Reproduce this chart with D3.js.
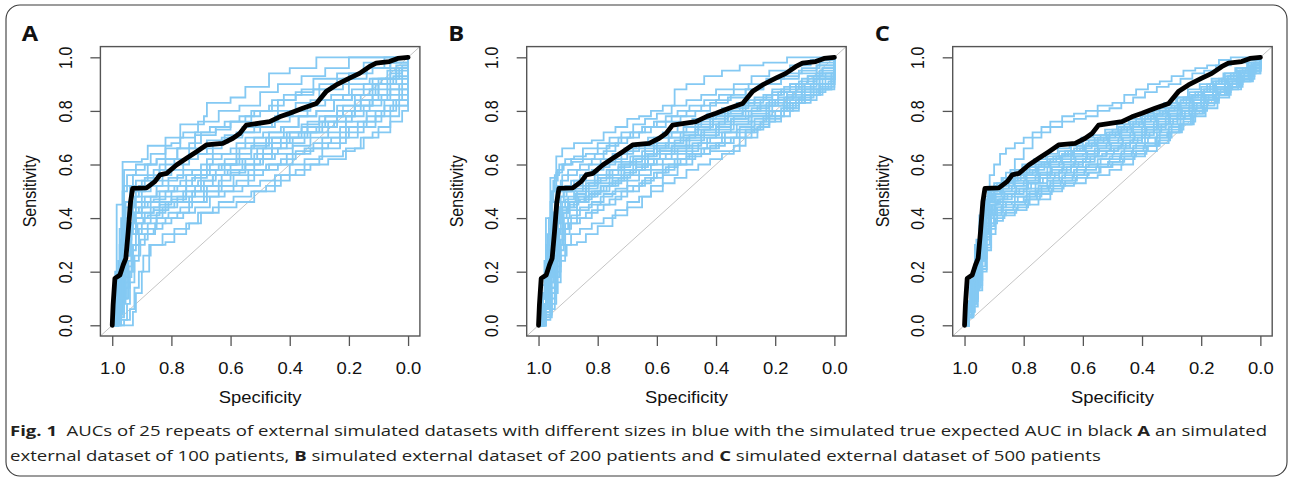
<!DOCTYPE html>
<html>
<head>
<meta charset="utf-8">
<script src="https://cdn.jsdelivr.net/npm/d3@7"></script>
<style>
  html, body { margin: 0; padding: 0; background: #fff; }
  svg { display: block; }
</style>
</head>
<body>
<svg id="fig" width="1290" height="480"></svg>
<script>
// ---- data: ROC curves as [specificity, sensitivity] vertices ----
const panelLetters = ["A", "B", "C"];
const tickValues = [0, 0.2, 0.4, 0.6, 0.8, 1.0];

// simulated true expected ROC (black), identical in every panel
const trueRoc = [[1,0],[.997,.076],[.991,.175],[.974,.188],[.963,.225],[.954,.25],[.946,.349],[.938,.461],[.931,.511],
  [.884,.513],[.856,.536],[.839,.561],[.816,.567],[.783,.598],[.749,.623],[.715,.648],[.682,.673],[.626,.679],
  [.592,.698],[.569,.716],[.547,.747],[.468,.76],[.434,.778],[.40,.791],[.356,.81],[.31,.828],[.277,.872],
  [.243,.897],[.198,.922],[.164,.94],[.131,.965],[.108,.978],[.063,.984],[.035,.996],[0,1]];

// 25 repeats, external dataset of 100 patients
const rocA = [
 [[1,0],[.99,.2],[.985,.45],[.965,.61],[.9,.62],[.88,.67],[.8,.68],[.77,.75],[.69,.78],[.68,.83],[.6,.85],[.55,.89],[.47,.94],[.4,.96],[.31,1],[0,1]],
 [[1,0],[.98,.15],[.97,.4],[.96,.58],[.92,.6],[.87,.64],[.82,.7],[.76,.72],[.71,.76],[.64,.8],[.57,.82],[.5,.87],[.44,.9],[.36,.93],[.28,.96],[.2,1],[0,1]],
 [[1,0],[.99,.1],[.97,.3],[.96,.52],[.93,.56],[.88,.6],[.85,.62],[.78,.66],[.72,.71],[.65,.73],[.6,.76],[.53,.8],[.46,.84],[.38,.87],[.32,.92],[.24,.94],[.15,.98],[.08,1],[0,1]],
 [[1,0],[.985,.12],[.97,.26],[.955,.44],[.92,.5],[.89,.55],[.84,.58],[.79,.6],[.74,.66],[.68,.69],[.62,.71],[.56,.74],[.5,.76],[.44,.8],[.38,.83],[.3,.88],[.22,.92],[.14,.96],[.06,.98],[0,1]],
 [[1,0],[.98,.08],[.96,.2],[.95,.38],[.93,.46],[.9,.48],[.85,.52],[.81,.55],[.76,.58],[.7,.6],[.66,.64],[.6,.66],[.55,.7],[.49,.72],[.43,.74],[.37,.78],[.31,.8],[.25,.84],[.19,.88],[.12,.9],[.06,.94],[.02,.97],[0,1]],
 [[1,0],[.99,.06],[.975,.16],[.96,.3],[.945,.42],[.91,.44],[.87,.48],[.84,.5],[.79,.52],[.75,.56],[.7,.58],[.64,.6],[.58,.62],[.53,.66],[.48,.7],[.42,.72],[.36,.75],[.3,.78],[.24,.82],[.18,.86],[.11,.9],[.05,.93],[0,1]],
 [[1,0],[.985,.1],[.97,.22],[.95,.34],[.93,.4],[.9,.42],[.86,.44],[.82,.46],[.78,.48],[.72,.52],[.66,.56],[.62,.6],[.57,.62],[.52,.64],[.46,.68],[.4,.7],[.34,.74],[.28,.78],[.22,.8],[.16,.84],[.1,.9],[.04,.96],[0,1]],
 [[1,0],[.99,.04],[.97,.12],[.955,.26],[.94,.36],[.92,.4],[.88,.41],[.84,.45],[.8,.47],[.75,.5],[.69,.54],[.65,.56],[.6,.58],[.55,.6],[.49,.64],[.44,.66],[.39,.7],[.33,.72],[.27,.76],[.21,.78],[.15,.82],[.09,.86],[.03,.9],[0,1]],
 [[1,0],[.95,0],[.93,.05],[.92,.12],[.9,.2],[.875,.3],[.82,.31],[.79,.34],[.75,.38],[.71,.42],[.66,.44],[.58,.46],[.52,.5],[.45,.54],[.4,.56],[.35,.6],[.3,.63],[.22,.65],[.18,.66],[.15,.7],[.1,.74],[.06,.78],[.03,.82],[0,1]],
 [[1,0],[.98,.03],[.96,.1],[.945,.2],[.93,.3],[.91,.34],[.88,.36],[.85,.4],[.81,.42],[.77,.44],[.73,.46],[.68,.5],[.63,.52],[.58,.54],[.52,.58],[.47,.6],[.41,.64],[.35,.66],[.29,.7],[.23,.74],[.17,.76],[.11,.8],[.05,.84],[0,1]],
 [[1,0],[.975,.05],[.96,.14],[.945,.24],[.935,.34],[.915,.38],[.89,.42],[.86,.43],[.81,.46],[.76,.5],[.7,.52],[.64,.54],[.6,.57],[.55,.6],[.5,.62],[.45,.64],[.39,.67],[.33,.7],[.27,.72],[.21,.76],[.14,.8],[.08,.84],[.02,.88],[0,1]],
 [[1,0],[.99,.08],[.975,.18],[.965,.28],[.95,.36],[.93,.42],[.9,.46],[.86,.47],[.82,.5],[.78,.52],[.73,.55],[.68,.58],[.63,.6],[.58,.64],[.53,.67],[.47,.7],[.41,.72],[.36,.74],[.3,.76],[.24,.8],[.18,.84],[.12,.92],[.06,.96],[0,1]],
 [[1,0],[.98,.04],[.965,.1],[.95,.18],[.935,.28],[.92,.34],[.9,.38],[.87,.4],[.83,.44],[.79,.46],[.74,.48],[.69,.5],[.64,.52],[.59,.56],[.54,.58],[.48,.6],[.43,.62],[.38,.65],[.32,.68],[.26,.7],[.2,.74],[.14,.78],[.08,.82],[.03,.86],[0,1]],
 [[1,0],[.99,.1],[.98,.2],[.97,.32],[.955,.4],[.94,.48],[.91,.52],[.87,.54],[.83,.56],[.8,.58],[.76,.62],[.71,.64],[.66,.68],[.61,.7],[.56,.72],[.5,.74],[.45,.78],[.39,.8],[.33,.84],[.26,.86],[.2,.9],[.13,.92],[.07,.95],[0,1]],
 [[1,0],[.97,.02],[.95,.08],[.94,.16],[.925,.24],[.91,.3],[.89,.34],[.86,.36],[.83,.38],[.8,.4],[.76,.42],[.72,.44],[.67,.48],[.62,.5],[.56,.52],[.5,.54],[.45,.56],[.4,.6],[.35,.62],[.29,.66],[.23,.7],[.17,.74],[.11,.78],[.06,.82],[0,1]],
 [[1,0],[.99,.06],[.97,.14],[.96,.24],[.95,.32],[.935,.38],[.92,.44],[.89,.48],[.85,.5],[.81,.52],[.77,.54],[.72,.56],[.67,.6],[.62,.62],[.57,.66],[.52,.68],[.46,.7],[.4,.72],[.34,.76],[.28,.78],[.22,.82],[.16,.86],[.1,.92],[.04,.97],[0,1]],
 [[1,0],[.985,.14],[.975,.3],[.96,.46],[.94,.52],[.92,.54],[.88,.56],[.84,.6],[.79,.62],[.74,.64],[.68,.66],[.63,.7],[.58,.72],[.52,.74],[.46,.76],[.4,.78],[.34,.82],[.28,.84],[.22,.86],[.15,.9],[.09,.92],[.03,.96],[0,1]],
 [[1,0],[.98,.06],[.97,.16],[.955,.28],[.94,.38],[.925,.42],[.9,.44],[.88,.46],[.84,.48],[.8,.5],[.75,.52],[.71,.54],[.66,.56],[.61,.58],[.56,.62],[.51,.66],[.46,.68],[.41,.7],[.36,.72],[.3,.74],[.24,.78],[.18,.82],[.12,.84],[.06,.88],[0,1]],
 [[1,0],[.99,.12],[.98,.24],[.965,.36],[.955,.46],[.94,.5],[.9,.54],[.86,.58],[.82,.62],[.78,.66],[.74,.68],[.7,.72],[.65,.74],[.6,.76],[.55,.78],[.5,.8],[.44,.84],[.38,.86],[.32,.88],[.26,.9],[.2,.94],[.14,.96],[.08,.98],[.04,1],[0,1]],
 [[1,0],[.975,.08],[.96,.18],[.95,.26],[.94,.34],[.92,.38],[.895,.4],[.87,.44],[.84,.46],[.8,.48],[.75,.52],[.7,.56],[.65,.58],[.6,.6],[.55,.62],[.49,.66],[.43,.7],[.37,.72],[.31,.74],[.25,.76],[.19,.8],[.13,.84],[.07,.88],[.02,.92],[0,1]],
 [[1,0],[.96,.02],[.94,.06],[.925,.14],[.91,.2],[.895,.26],[.87,.3],[.83,.34],[.79,.36],[.74,.38],[.7,.42],[.64,.46],[.59,.48],[.53,.5],[.48,.52],[.43,.56],[.38,.58],[.33,.6],[.27,.62],[.21,.66],[.16,.7],[.12,.72],[.06,.76],[.02,.8],[0,1]],
 [[1,0],[.985,.04],[.97,.1],[.955,.16],[.945,.22],[.93,.3],[.91,.36],[.88,.38],[.85,.42],[.82,.44],[.78,.46],[.73,.5],[.68,.52],[.63,.56],[.57,.58],[.52,.62],[.46,.66],[.41,.68],[.35,.72],[.29,.76],[.24,.78],[.18,.82],[.12,.86],[.06,.9],[0,1]],
 [[1,0],[.98,.1],[.965,.24],[.955,.34],[.945,.44],[.925,.48],[.9,.5],[.87,.52],[.83,.54],[.78,.56],[.73,.58],[.68,.62],[.63,.64],[.58,.68],[.52,.7],[.47,.72],[.42,.74],[.37,.78],[.31,.8],[.25,.84],[.19,.86],[.13,.88],[.07,.92],[.02,.96],[0,1]],
 [[1,0],[.99,.02],[.97,.08],[.955,.14],[.94,.2],[.925,.26],[.905,.32],[.88,.34],[.855,.38],[.82,.4],[.78,.42],[.74,.46],[.69,.48],[.64,.5],[.59,.52],[.54,.56],[.49,.58],[.44,.6],[.39,.64],[.33,.66],[.27,.68],[.21,.72],[.15,.76],[.09,.8],[.04,.84],[0,1]],
 [[1,0],[.985,.2],[.975,.36],[.965,.5],[.95,.56],[.92,.58],[.89,.6],[.85,.62],[.82,.66],[.77,.7],[.72,.72],[.67,.74],[.62,.76],[.57,.78],[.52,.8],[.47,.82],[.42,.86],[.36,.88],[.3,.9],[.24,.92],[.18,.94],[.12,.96],[.06,.98],[0,1]]
];

// 25 repeats, external dataset of 200 patients
const rocB = [
 [[1,0],[.99,.15],[.975,.4],[.96,.55],[.94,.63],[.92,.66],[.88,.68],[.82,.69],[.78,.72],[.74,.74],[.7,.77],[.66,.78],[.62,.8],[.58,.82],[.54,.88],[.5,.9],[.44,.93],[.38,.95],[.32,.97],[.24,.98],[.16,1],[0,1]],
 [[1,0],[.985,.12],[.97,.34],[.955,.5],[.94,.57],[.92,.6],[.89,.62],[.85,.66],[.8,.68],[.76,.7],[.72,.72],[.68,.75],[.64,.77],[.6,.79],[.55,.82],[.5,.84],[.45,.86],[.4,.88],[.34,.9],[.28,.93],[.22,.95],[.15,.97],[.08,.99],[0,1]],
 [[1,0],[.99,.08],[.97,.26],[.955,.42],[.94,.52],[.92,.56],[.9,.58],[.86,.6],[.82,.62],[.78,.65],[.74,.68],[.7,.7],[.66,.72],[.62,.74],[.57,.76],[.52,.78],[.47,.8],[.42,.83],[.36,.85],[.3,.88],[.24,.9],[.18,.93],[.12,.95],[.06,.97],[0,1]],
 [[1,0],[.985,.1],[.965,.24],[.95,.36],[.935,.46],[.915,.5],[.89,.54],[.86,.56],[.82,.58],[.78,.6],[.74,.62],[.7,.65],[.66,.67],[.61,.7],[.56,.72],[.51,.74],[.46,.76],[.41,.78],[.36,.8],[.3,.83],[.24,.86],[.18,.88],[.12,.91],[.06,.94],[0,1]],
 [[1,0],[.98,.06],[.965,.18],[.95,.3],[.935,.4],[.92,.46],[.9,.48],[.87,.5],[.83,.53],[.79,.55],[.75,.58],[.71,.6],[.67,.62],[.63,.64],[.59,.66],[.54,.69],[.49,.71],[.44,.73],[.39,.76],[.34,.78],[.28,.81],[.22,.84],[.16,.87],[.1,.9],[.05,.94],[0,1]],
 [[1,0],[.985,.08],[.97,.2],[.955,.32],[.94,.4],[.925,.44],[.9,.46],[.87,.48],[.84,.51],[.8,.53],[.76,.56],[.72,.58],[.68,.6],[.64,.63],[.6,.65],[.55,.67],[.5,.7],[.45,.72],[.4,.74],[.35,.77],[.29,.8],[.23,.83],[.17,.85],[.11,.88],[.05,.92],[0,1]],
 [[1,0],[.98,.05],[.96,.14],[.945,.24],[.93,.34],[.915,.4],[.895,.43],[.87,.46],[.84,.48],[.8,.5],[.76,.53],[.72,.56],[.68,.58],[.64,.6],[.6,.62],[.55,.65],[.5,.67],[.45,.7],[.4,.72],[.35,.75],[.29,.78],[.23,.8],[.17,.83],[.11,.86],[.05,.9],[0,1]],
 [[1,0],[.99,.06],[.975,.16],[.96,.28],[.945,.38],[.93,.44],[.91,.47],[.88,.5],[.85,.52],[.81,.54],[.77,.56],[.73,.59],[.69,.61],[.65,.63],[.61,.66],[.57,.68],[.52,.7],[.47,.73],[.42,.75],[.37,.78],[.31,.8],[.25,.82],[.19,.85],[.13,.88],[.07,.92],[0,1]],
 [[1,0],[.98,.02],[.96,.06],[.945,.12],[.935,.2],[.925,.26],[.905,.3],[.87,.31],[.84,.34],[.8,.37],[.75,.41],[.7,.44],[.65,.48],[.62,.52],[.58,.56],[.53,.6],[.48,.64],[.42,.65],[.37,.65],[.32,.7],[.28,.73],[.24,.78],[.21,.82],[.15,.84],[.1,.86],[.05,.9],[.01,.94],[0,1]],
 [[1,0],[.975,.04],[.955,.12],[.94,.22],[.925,.3],[.91,.36],[.89,.38],[.86,.4],[.82,.43],[.78,.45],[.74,.48],[.7,.5],[.66,.53],[.62,.55],[.58,.58],[.54,.6],[.5,.63],[.45,.66],[.4,.68],[.35,.7],[.3,.73],[.25,.76],[.2,.8],[.15,.83],[.1,.86],[.05,.9],[0,1]],
 [[1,0],[.985,.06],[.965,.16],[.95,.26],[.935,.36],[.92,.42],[.9,.44],[.87,.46],[.83,.49],[.79,.52],[.75,.54],[.71,.57],[.67,.59],[.63,.62],[.59,.64],[.54,.66],[.49,.69],[.44,.71],[.39,.73],[.34,.76],[.28,.79],[.22,.82],[.16,.85],[.1,.88],[.04,.92],[0,1]],
 [[1,0],[.99,.1],[.975,.22],[.96,.36],[.945,.46],[.93,.5],[.91,.52],[.88,.54],[.84,.57],[.8,.59],[.76,.61],[.72,.64],[.68,.66],[.64,.68],[.6,.7],[.55,.72],[.5,.74],[.45,.77],[.4,.79],[.35,.81],[.29,.84],[.23,.86],[.17,.89],[.11,.92],[.05,.95],[0,1]],
 [[1,0],[.98,.04],[.96,.1],[.945,.18],[.93,.28],[.915,.34],[.895,.38],[.87,.4],[.84,.42],[.8,.45],[.76,.47],[.72,.5],[.68,.52],[.64,.55],[.6,.57],[.56,.6],[.52,.62],[.47,.64],[.42,.67],[.37,.7],[.32,.72],[.27,.75],[.22,.78],[.17,.81],[.12,.84],[.06,.88],[0,1]],
 [[1,0],[.985,.12],[.97,.28],[.955,.42],[.94,.5],[.925,.54],[.9,.56],[.87,.58],[.83,.6],[.79,.62],[.75,.64],[.71,.66],[.67,.68],[.63,.7],[.58,.72],[.53,.75],[.48,.77],[.43,.79],[.38,.81],[.33,.83],[.27,.85],[.21,.88],[.15,.9],[.09,.93],[.04,.96],[0,1]],
 [[1,0],[.98,.08],[.965,.2],[.95,.32],[.94,.4],[.92,.44],[.895,.46],[.86,.47],[.82,.5],[.78,.52],[.74,.54],[.7,.56],[.66,.58],[.62,.6],[.58,.62],[.53,.64],[.48,.66],[.43,.68],[.38,.7],[.33,.73],[.28,.76],[.23,.78],[.18,.81],[.13,.84],[.08,.87],[.03,.9],[0,1]],
 [[1,0],[.975,.06],[.96,.16],[.945,.28],[.93,.36],[.915,.42],[.895,.45],[.865,.48],[.83,.5],[.79,.52],[.75,.55],[.71,.58],[.67,.6],[.63,.62],[.59,.65],[.55,.67],[.5,.7],[.45,.73],[.4,.75],[.35,.77],[.3,.8],[.25,.82],[.2,.84],[.14,.87],[.08,.9],[.03,.94],[0,1]],
 [[1,0],[.99,.08],[.975,.2],[.96,.32],[.95,.42],[.935,.48],[.915,.5],[.885,.52],[.85,.54],[.81,.56],[.77,.58],[.73,.6],[.69,.63],[.65,.65],[.61,.67],[.56,.7],[.51,.72],[.46,.74],[.41,.77],[.36,.79],[.31,.82],[.25,.84],[.19,.87],[.13,.9],[.07,.93],[0,1]],
 [[1,0],[.98,.05],[.96,.12],[.945,.2],[.935,.3],[.92,.36],[.9,.4],[.87,.43],[.83,.45],[.79,.48],[.75,.5],[.7,.52],[.65,.54],[.61,.57],[.57,.59],[.53,.62],[.49,.64],[.44,.66],[.39,.68],[.34,.7],[.3,.72],[.26,.74],[.22,.76],[.18,.78],[.15,.8],[.12,.83],[.08,.86],[.04,.88],[.01,.92],[0,1]],
 [[1,0],[.975,.03],[.955,.08],[.94,.16],[.925,.24],[.91,.3],[.89,.34],[.86,.36],[.82,.38],[.78,.4],[.74,.43],[.7,.46],[.66,.48],[.62,.5],[.58,.53],[.54,.55],[.5,.58],[.46,.6],[.42,.62],[.38,.64],[.34,.67],[.3,.7],[.26,.74],[.22,.77],[.18,.8],[.14,.83],[.1,.86],[.05,.88],[.01,.92],[0,1]],
 [[1,0],[.99,.1],[.98,.24],[.965,.4],[.955,.5],[.945,.56],[.93,.6],[.91,.62],[.88,.63],[.84,.64],[.8,.66],[.76,.68],[.72,.7],[.68,.72],[.64,.74],[.6,.76],[.55,.78],[.5,.8],[.45,.82],[.4,.84],[.35,.86],[.3,.88],[.24,.9],[.18,.92],[.12,.94],[.06,.97],[0,1]],
 [[1,0],[.985,.06],[.97,.14],[.955,.24],[.94,.34],[.925,.4],[.905,.44],[.88,.46],[.845,.48],[.81,.5],[.77,.52],[.73,.55],[.69,.58],[.65,.6],[.61,.62],[.57,.64],[.53,.66],[.48,.68],[.43,.7],[.38,.72],[.33,.75],[.28,.78],[.22,.8],[.16,.83],[.1,.86],[.05,.89],[0,1]],
 [[1,0],[.98,.07],[.965,.18],[.95,.3],[.935,.38],[.92,.43],[.9,.46],[.875,.49],[.84,.52],[.8,.55],[.76,.58],[.72,.6],[.68,.62],[.64,.64],[.6,.66],[.56,.68],[.51,.71],[.46,.74],[.41,.76],[.36,.78],[.31,.8],[.26,.82],[.21,.84],[.16,.86],[.11,.89],[.06,.92],[0,1]],
 [[1,0],[.985,.1],[.97,.22],[.955,.34],[.94,.44],[.925,.48],[.905,.5],[.875,.51],[.84,.53],[.8,.56],[.76,.58],[.72,.61],[.68,.63],[.64,.66],[.6,.68],[.56,.7],[.52,.72],[.47,.75],[.42,.78],[.37,.8],[.32,.82],[.27,.84],[.21,.87],[.15,.9],[.09,.93],[.04,.96],[0,1]],
 [[1,0],[.975,.05],[.955,.14],[.94,.24],[.925,.32],[.91,.38],[.89,.41],[.86,.44],[.82,.46],[.78,.49],[.74,.51],[.7,.54],[.66,.56],[.62,.58],[.58,.6],[.54,.62],[.5,.65],[.46,.68],[.42,.7],[.37,.72],[.32,.74],[.27,.77],[.22,.8],[.17,.82],[.12,.85],[.07,.88],[.02,.91],[0,1]],
 [[1,0],[.99,.12],[.975,.3],[.96,.46],[.95,.54],[.935,.58],[.915,.6],[.885,.61],[.85,.62],[.81,.64],[.77,.67],[.73,.7],[.69,.72],[.65,.74],[.61,.76],[.57,.78],[.53,.8],[.49,.82],[.44,.84],[.39,.86],[.34,.88],[.29,.9],[.23,.92],[.17,.94],[.11,.96],[.05,.98],[0,1]]
];

// 25 repeats, external dataset of 500 patients
const rocC = [
 [[1,0],[.99,.06],[.975,.16],[.96,.28],[.945,.4],[.93,.5],[.915,.56],[.9,.6],[.88,.64],[.86,.66],[.83,.68],[.8,.7],[.77,.72],[.74,.74],[.71,.76],[.67,.78],[.63,.79],[.59,.8],[.55,.82],[.5,.83],[.46,.86],[.42,.88],[.38,.9],[.34,.91],[.3,.93],[.26,.95],[.22,.96],[.18,.97],[.14,.99],[.1,1],[0,1]],
 [[1,0],[.99,.05],[.975,.14],[.96,.26],[.945,.38],[.93,.46],[.91,.5],[.89,.53],[.86,.57],[.83,.62],[.8,.66],[.77,.7],[.74,.72],[.71,.74],[.67,.76],[.63,.77],[.59,.78],[.55,.8],[.51,.81],[.47,.83],[.43,.85],[.39,.87],[.35,.89],[.31,.9],[.27,.92],[.23,.94],[.19,.95],[.15,.97],[.1,.98],[.05,.99],[0,1]],
 [[1,0],[.985,.04],[.97,.09],[.955,.15],[.94,.21],[.925,.28],[.91,.34],[.895,.39],[.87,.41],[.83,.43],[.79,.45],[.75,.47],[.71,.5],[.67,.52],[.63,.53],[.59,.55],[.55,.56],[.51,.58],[.47,.6],[.43,.63],[.39,.65],[.35,.68],[.31,.72],[.27,.75],[.23,.79],[.19,.83],[.15,.86],[.11,.89],[.07,.91],[.03,.94],[0,1]],
 [[1,0],[.99,.03],[.975,.08],[.96,.16],[.945,.24],[.93,.32],[.915,.38],[.9,.41],[.875,.43],[.835,.45],[.795,.47],[.755,.5],[.715,.52],[.675,.54],[.635,.56],[.595,.58],[.555,.59],[.515,.61],[.475,.63],[.435,.65],[.395,.67],[.355,.7],[.315,.72],[.275,.75],[.235,.79],[.195,.82],[.155,.86],[.115,.88],[.075,.91],[.035,.95],[0,1]],
 [[1,0],[.985,.05],[.97,.12],[.955,.2],[.94,.28],[.925,.36],[.91,.41],[.89,.44],[.86,.46],[.82,.48],[.78,.5],[.74,.52],[.7,.55],[.66,.57],[.62,.59],[.58,.6],[.54,.62],[.5,.64],[.46,.66],[.42,.68],[.38,.7],[.34,.73],[.3,.75],[.26,.78],[.22,.81],[.18,.84],[.14,.87],[.1,.9],[.06,.93],[.02,.96],[0,1]],
 [[1,0],[.99,.04],[.975,.11],[.96,.19],[.945,.29],[.93,.38],[.915,.43],[.9,.45],[.88,.47],[.84,.49],[.8,.51],[.76,.53],[.72,.56],[.68,.58],[.64,.6],[.6,.62],[.56,.63],[.52,.65],[.48,.67],[.44,.69],[.4,.72],[.36,.74],[.32,.76],[.28,.79],[.24,.82],[.2,.85],[.16,.87],[.12,.9],[.08,.93],[.04,.96],[0,1]],
 [[1,0],[.985,.06],[.97,.14],[.955,.23],[.94,.32],[.925,.4],[.91,.45],[.89,.47],[.865,.49],[.825,.51],[.785,.53],[.745,.56],[.705,.58],[.665,.6],[.625,.62],[.585,.64],[.545,.65],[.505,.67],[.465,.69],[.425,.71],[.385,.73],[.345,.75],[.305,.78],[.265,.8],[.225,.83],[.185,.86],[.145,.88],[.105,.91],[.065,.94],[.025,.97],[0,1]],
 [[1,0],[.99,.07],[.975,.16],[.96,.26],[.945,.36],[.93,.43],[.915,.47],[.895,.49],[.87,.51],[.83,.53],[.79,.55],[.75,.57],[.71,.6],[.67,.62],[.63,.64],[.59,.65],[.55,.67],[.51,.69],[.47,.71],[.43,.73],[.39,.75],[.35,.77],[.31,.79],[.27,.82],[.23,.84],[.19,.87],[.15,.89],[.11,.92],[.07,.94],[.03,.97],[0,1]],
 [[1,0],[.985,.08],[.97,.18],[.955,.3],[.94,.4],[.925,.46],[.905,.49],[.88,.51],[.85,.54],[.81,.56],[.77,.58],[.73,.61],[.69,.63],[.65,.65],[.61,.66],[.57,.68],[.53,.7],[.49,.72],[.45,.74],[.41,.76],[.37,.78],[.33,.8],[.29,.82],[.25,.85],[.21,.87],[.17,.9],[.13,.92],[.09,.94],[.05,.96],[.02,.98],[0,1]],
 [[1,0],[.99,.05],[.98,.12],[.965,.22],[.95,.33],[.935,.41],[.92,.46],[.9,.48],[.875,.5],[.84,.52],[.8,.54],[.76,.56],[.72,.59],[.68,.61],[.64,.63],[.6,.64],[.56,.66],[.52,.68],[.48,.7],[.44,.72],[.4,.74],[.36,.76],[.32,.78],[.28,.81],[.24,.83],[.2,.86],[.16,.88],[.12,.91],[.08,.93],[.04,.96],[0,1]],
 [[1,0],[.985,.05],[.965,.13],[.95,.24],[.935,.34],[.92,.41],[.905,.45],[.885,.47],[.855,.49],[.815,.51],[.775,.53],[.735,.55],[.695,.57],[.655,.59],[.615,.61],[.575,.63],[.535,.64],[.495,.66],[.455,.68],[.415,.7],[.375,.72],[.335,.75],[.295,.77],[.255,.8],[.215,.83],[.175,.86],[.135,.88],[.095,.91],[.055,.94],[.015,.97],[0,1]],
 [[1,0],[.99,.04],[.975,.1],[.96,.18],[.945,.26],[.93,.35],[.915,.41],[.895,.44],[.87,.46],[.83,.48],[.79,.5],[.75,.52],[.71,.54],[.67,.56],[.63,.58],[.59,.6],[.55,.62],[.51,.63],[.47,.65],[.43,.67],[.39,.7],[.35,.72],[.31,.74],[.27,.77],[.23,.8],[.19,.83],[.15,.86],[.11,.89],[.07,.92],[.03,.95],[0,1]],
 [[1,0],[.985,.03],[.97,.07],[.955,.13],[.94,.2],[.925,.29],[.91,.36],[.895,.4],[.865,.42],[.825,.44],[.785,.47],[.745,.49],[.705,.51],[.665,.53],[.625,.55],[.585,.57],[.545,.59],[.505,.6],[.465,.62],[.425,.64],[.385,.67],[.345,.69],[.305,.72],[.265,.75],[.225,.78],[.185,.81],[.145,.85],[.105,.88],[.065,.91],[.025,.94],[0,1]],
 [[1,0],[.99,.06],[.975,.15],[.965,.24],[.95,.35],[.935,.43],[.92,.47],[.9,.5],[.875,.52],[.835,.54],[.795,.56],[.755,.59],[.715,.61],[.675,.63],[.635,.65],[.595,.67],[.555,.68],[.515,.7],[.475,.72],[.435,.74],[.395,.76],[.355,.78],[.315,.8],[.275,.83],[.235,.85],[.195,.87],[.155,.9],[.115,.92],[.075,.95],[.035,.97],[0,1]],
 [[1,0],[.985,.07],[.975,.17],[.96,.29],[.945,.39],[.93,.46],[.915,.5],[.895,.52],[.865,.54],[.83,.56],[.79,.58],[.75,.6],[.71,.62],[.67,.64],[.63,.66],[.59,.68],[.55,.7],[.51,.72],[.47,.74],[.43,.76],[.39,.78],[.35,.79],[.31,.81],[.27,.84],[.23,.86],[.19,.88],[.15,.91],[.11,.93],[.07,.95],[.03,.98],[0,1]],
 [[1,0],[.99,.08],[.98,.18],[.965,.3],[.95,.41],[.935,.47],[.92,.5],[.9,.52],[.87,.55],[.84,.57],[.8,.59],[.76,.61],[.72,.63],[.68,.65],[.64,.67],[.6,.69],[.56,.7],[.52,.72],[.48,.74],[.44,.76],[.4,.78],[.36,.8],[.32,.82],[.28,.85],[.24,.87],[.2,.89],[.16,.91],[.12,.94],[.08,.96],[.04,.98],[0,1]],
 [[1,0],[.985,.09],[.97,.2],[.96,.32],[.945,.42],[.935,.48],[.92,.51],[.9,.53],[.875,.55],[.845,.58],[.805,.6],[.765,.62],[.725,.64],[.685,.66],[.645,.68],[.605,.7],[.565,.71],[.525,.73],[.485,.75],[.445,.77],[.405,.79],[.365,.81],[.325,.83],[.285,.85],[.245,.88],[.205,.9],[.165,.92],[.125,.94],[.085,.96],[.045,.98],[0,1]],
 [[1,0],[.99,.06],[.98,.14],[.965,.25],[.95,.36],[.935,.44],[.92,.48],[.9,.5],[.87,.53],[.835,.55],[.8,.57],[.76,.6],[.72,.62],[.68,.63],[.64,.65],[.6,.67],[.56,.69],[.52,.71],[.48,.73],[.44,.75],[.4,.77],[.36,.79],[.32,.81],[.28,.83],[.24,.86],[.2,.88],[.16,.91],[.12,.93],[.08,.95],[.04,.97],[0,1]],
 [[1,0],[.985,.04],[.97,.1],[.955,.19],[.945,.27],[.93,.37],[.915,.43],[.895,.46],[.87,.48],[.83,.5],[.79,.53],[.75,.55],[.71,.57],[.67,.59],[.63,.61],[.59,.63],[.55,.65],[.51,.66],[.47,.68],[.43,.7],[.39,.73],[.35,.75],[.31,.77],[.27,.8],[.23,.82],[.19,.85],[.15,.88],[.11,.9],[.07,.93],[.03,.96],[0,1]],
 [[1,0],[.985,.04],[.97,.1],[.955,.17],[.94,.25],[.925,.33],[.91,.38],[.89,.41],[.86,.43],[.82,.45],[.78,.48],[.74,.5],[.7,.52],[.66,.54],[.62,.56],[.58,.57],[.54,.59],[.5,.61],[.46,.63],[.42,.65],[.38,.67],[.34,.7],[.3,.73],[.26,.76],[.22,.8],[.18,.83],[.14,.86],[.1,.89],[.06,.92],[.02,.95],[0,1]],
 [[1,0],[.99,.03],[.975,.09],[.96,.17],[.945,.26],[.93,.34],[.915,.4],[.9,.43],[.875,.45],[.84,.46],[.8,.48],[.76,.51],[.72,.54],[.68,.57],[.64,.59],[.6,.61],[.56,.63],[.52,.65],[.48,.66],[.44,.68],[.4,.71],[.36,.73],[.32,.75],[.28,.78],[.24,.81],[.2,.84],[.16,.86],[.12,.89],[.08,.92],[.04,.95],[0,1]],
 [[1,0],[.985,.08],[.97,.19],[.955,.31],[.94,.41],[.925,.47],[.91,.5],[.89,.52],[.86,.54],[.82,.57],[.78,.59],[.74,.61],[.7,.63],[.66,.65],[.62,.67],[.58,.69],[.54,.71],[.5,.73],[.46,.75],[.42,.77],[.38,.79],[.34,.81],[.3,.83],[.26,.85],[.22,.87],[.18,.9],[.14,.92],[.1,.94],[.06,.96],[.02,.98],[0,1]],
 [[1,0],[.99,.05],[.975,.13],[.96,.22],[.945,.31],[.93,.4],[.915,.45],[.895,.48],[.865,.5],[.825,.52],[.785,.54],[.745,.57],[.705,.59],[.665,.61],[.625,.63],[.585,.65],[.545,.66],[.505,.68],[.465,.7],[.425,.72],[.385,.74],[.345,.77],[.305,.79],[.265,.81],[.225,.84],[.185,.86],[.145,.89],[.105,.91],[.065,.94],[.025,.97],[0,1]],
 [[1,0],[.985,.03],[.975,.08],[.96,.14],[.945,.22],[.93,.3],[.915,.37],[.9,.42],[.87,.44],[.83,.46],[.79,.49],[.75,.51],[.71,.53],[.67,.55],[.63,.57],[.59,.59],[.55,.6],[.51,.62],[.47,.64],[.43,.66],[.39,.68],[.35,.71],[.31,.74],[.27,.77],[.23,.8],[.19,.84],[.15,.86],[.11,.89],[.07,.92],[.03,.95],[0,1]],
 [[1,0],[.99,.07],[.98,.16],[.965,.27],[.95,.37],[.935,.44],[.92,.48],[.9,.51],[.87,.53],[.83,.55],[.79,.57],[.75,.59],[.71,.62],[.67,.64],[.63,.65],[.59,.67],[.55,.69],[.51,.71],[.47,.73],[.43,.75],[.39,.77],[.35,.79],[.31,.81],[.27,.84],[.23,.86],[.19,.88],[.15,.9],[.11,.93],[.07,.95],[.03,.97],[0,1]]
];

const panelCurves = [rocA, rocB, rocC];

// ---- layout ----
const svg = d3.select("#fig");
const boxLefts = [100.4, 526.7, 952.7];
const boxW = 319.5, boxTop = 46.6, boxBottom = 336;
const plotFont = "'Liberation Sans', Arial, Helvetica, sans-serif";
const stretch = 1.15;   // glyphs of this figure are wider than tall

// outer frame
svg.append("rect")
  .attr("x", 6).attr("y", 5).attr("width", 1281).attr("height", 471)
  .attr("rx", 14).attr("ry", 14)
  .attr("fill", "#fff").attr("stroke", "#3a3a3a").attr("stroke-width", 1.1);

panelLetters.forEach((letter, i) => {
  const left = boxLefts[i];
  const x = d3.scaleLinear().domain([1.04, -0.04]).range([left, left + boxW]);
  const y = d3.scaleLinear().domain([-0.04, 1.04]).range([boxBottom, boxTop]);
  const g = svg.append("g");

  // chance diagonal across the whole plot region
  g.append("line")
    .attr("x1", x(1.04)).attr("y1", y(-0.04)).attr("x2", x(-0.04)).attr("y2", y(1.04))
    .attr("stroke", "#c4c4c4").attr("stroke-width", 1);

  const stepLine = d3.line().x(d => x(d[0])).y(d => y(d[1])).curve(d3.curveStepAfter);

  // repeated external datasets
  g.append("g").selectAll("path").data(panelCurves[i]).join("path")
    .attr("d", stepLine)
    .attr("fill", "none").attr("stroke", "#84c9f3").attr("stroke-width", 1.8);

  // true expected curve
  g.append("path")
    .attr("d", d3.line().x(d => x(d[0])).y(d => y(d[1]))(trueRoc))
    .attr("fill", "none").attr("stroke", "#000").attr("stroke-width", 4.8)
    .attr("stroke-linejoin", "round").attr("stroke-linecap", "round");

  // plot box
  g.append("rect")
    .attr("x", left).attr("y", boxTop).attr("width", boxW).attr("height", boxBottom - boxTop)
    .attr("fill", "none").attr("stroke", "#555").attr("stroke-width", 1.4);

  // x axis
  const xAxis = g.append("g").attr("transform", `translate(0,${boxBottom})`)
    .call(d3.axisBottom(x).tickValues(tickValues).tickSize(10).tickFormat(d3.format(".1f")));
  xAxis.select(".domain").remove();
  xAxis.selectAll(".tick line").attr("stroke", "#555").attr("stroke-width", 1.3);
  xAxis.selectAll(".tick text")
    .attr("y", null).attr("dy", null)
    .attr("transform", `translate(0,38) scale(${stretch},1)`)
    .attr("font-family", plotFont).attr("font-size", 16).attr("fill", "#111");

  // y axis, labels parallel to the axis
  const yAxis = g.append("g").attr("transform", `translate(${left},0)`)
    .call(d3.axisLeft(y).tickValues(tickValues).tickSize(10).tickFormat(d3.format(".1f")));
  yAxis.select(".domain").remove();
  yAxis.selectAll(".tick line").attr("stroke", "#555").attr("stroke-width", 1.3);
  yAxis.selectAll(".tick text")
    .attr("x", null).attr("dy", null)
    .attr("text-anchor", "middle")
    .attr("transform", `translate(-28.5,0) scale(${stretch},1) rotate(-90)`)
    .attr("font-family", plotFont).attr("font-size", 16).attr("fill", "#111");

  // axis titles
  g.append("text")
    .attr("transform", `translate(${left + boxW / 2},403) scale(${stretch},1)`)
    .attr("text-anchor", "middle")
    .attr("font-family", plotFont).attr("font-size", 16).attr("fill", "#111")
    .text("Specificity");
  g.append("text")
    .attr("transform", `translate(${left - 64},${(boxTop + boxBottom) / 2}) scale(${stretch},1) rotate(-90)`)
    .attr("text-anchor", "middle")
    .attr("font-family", plotFont).attr("font-size", 16).attr("fill", "#111")
    .text("Sensitivity");

  // panel letter
  g.append("text")
    .attr("transform", `translate(${left - 70.5},41) scale(1.08,1)`)
    .attr("text-anchor", "middle")
    .attr("font-family", "'Open Sans', 'Noto Sans', sans-serif").attr("font-weight", 700)
    .attr("font-size", 22).attr("fill", "#111")
    .text(letter);
});

// caption: both lines share one horizontal scale, set so the first line
// fills the frame width
const capFont = "'Open Sans', 'Noto Sans', sans-serif";
function captionLine(yBase, parts) {
  const t = svg.append("text")
    .attr("font-family", capFont).attr("font-size", 15).attr("fill", "#231f20");
  parts.forEach(([txt, bold]) => {
    t.append("tspan").attr("font-weight", bold ? 700 : 400).text(txt);
  });
  return t;
}
const capLine1 = captionLine(436, [
  ["Fig. 1", true],
  ["\u2002AUCs of 25 repeats of external simulated datasets with different sizes in blue with the simulated true expected AUC in black ", false],
  ["A", true],
  [" an simulated", false]
]);
const capLine2 = captionLine(461, [
  ["external dataset of 100 patients, ", false],
  ["B", true],
  [" simulated external dataset of 200 patients and ", false],
  ["C", true],
  [" simulated external dataset of 500 patients", false]
]);
const capScale = 1258 / capLine1.node().getComputedTextLength();
capLine1.attr("transform", `translate(10,436) scale(${capScale},1)`);
capLine2.attr("transform", `translate(10,461) scale(${capScale},1)`);
</script>
</body>
</html>
